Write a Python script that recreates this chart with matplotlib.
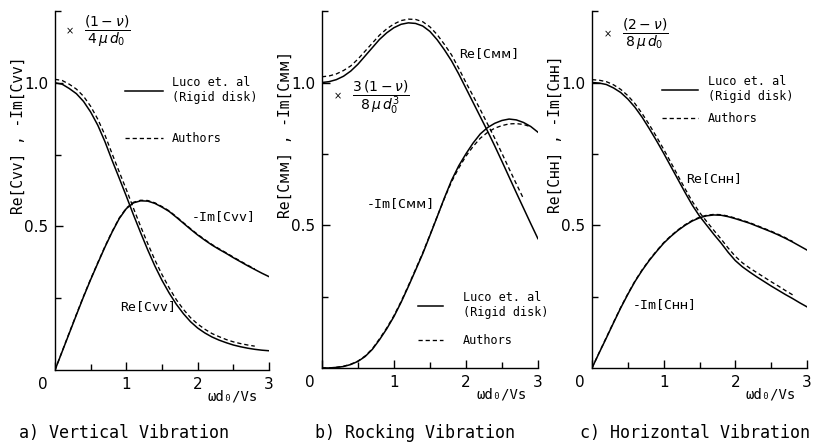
import matplotlib
matplotlib.use("Agg")
import matplotlib.pyplot as plt
from matplotlib.lines import Line2D
from matplotlib.ticker import FixedLocator

# frequency samples (omega d0 / Vs)
X_FULL = [0.0, 0.1, 0.2, 0.3, 0.4, 0.5, 0.6, 0.7, 0.8, 0.9, 1.0, 1.1, 1.2, 1.3, 1.4, 1.5,
          1.6, 1.7, 1.8, 1.9, 2.0, 2.1, 2.2, 2.3, 2.4, 2.5, 2.6, 2.7, 2.8, 2.9, 3.0]
X_DASH = X_FULL[:29]        # authors' curves stop near 2.8
X_DASH_LONG = X_FULL[:30]   # ... except rocking -Im, which runs to 2.9

# a) vertical
VV_RE_LUCO = [1.000, 0.995, 0.980, 0.962, 0.935, 0.898, 0.852, 0.795, 0.730, 0.668, 0.605,
              0.540, 0.478, 0.418, 0.362, 0.312, 0.268, 0.229, 0.196, 0.168, 0.146, 0.129,
              0.115, 0.104, 0.095, 0.087, 0.081, 0.076, 0.072, 0.069, 0.067]
VV_RE_AUTH = [1.012, 1.008, 0.995, 0.978, 0.953, 0.918, 0.873, 0.818, 0.753, 0.690, 0.628,
              0.563, 0.500, 0.440, 0.383, 0.332, 0.286, 0.245, 0.211, 0.182, 0.160, 0.142,
              0.127, 0.116, 0.106, 0.098, 0.092, 0.087, 0.083]
VV_IM_LUCO = [0.000, 0.064, 0.128, 0.192, 0.255, 0.315, 0.372, 0.428, 0.480, 0.527, 0.562,
              0.582, 0.589, 0.588, 0.580, 0.567, 0.552, 0.532, 0.511, 0.490, 0.470, 0.452,
              0.435, 0.420, 0.406, 0.391, 0.377, 0.363, 0.350, 0.337, 0.325]
VV_IM_AUTH = [0.000, 0.065, 0.130, 0.194, 0.257, 0.317, 0.374, 0.430, 0.482, 0.529, 0.564,
              0.584, 0.591, 0.590, 0.582, 0.569, 0.554, 0.534, 0.513, 0.492, 0.472, 0.454,
              0.437, 0.422, 0.408, 0.393, 0.379, 0.365, 0.352]

# b) rocking
MM_RE_LUCO = [1.000, 1.003, 1.010, 1.022, 1.040, 1.064, 1.093, 1.122, 1.151, 1.174, 1.192,
              1.204, 1.209, 1.207, 1.198, 1.179, 1.150, 1.115, 1.076, 1.030, 0.980, 0.930,
              0.880, 0.830, 0.778, 0.724, 0.669, 0.614, 0.560, 0.506, 0.453]
MM_RE_AUTH = [1.020, 1.023, 1.030, 1.042, 1.058, 1.082, 1.110, 1.138, 1.166, 1.188, 1.205,
              1.217, 1.222, 1.221, 1.213, 1.195, 1.168, 1.134, 1.097, 1.050, 1.000, 0.953,
              0.905, 0.855, 0.805, 0.752, 0.698, 0.645, 0.593]
MM_IM_LUCO = [0.000, 0.000, 0.002, 0.005, 0.012, 0.023, 0.040, 0.065, 0.099, 0.137, 0.180,
              0.230, 0.285, 0.342, 0.400, 0.464, 0.529, 0.595, 0.657, 0.708, 0.750, 0.788,
              0.820, 0.842, 0.857, 0.867, 0.872, 0.869, 0.860, 0.846, 0.826]
MM_IM_AUTH = [0.000, 0.000, 0.002, 0.006, 0.013, 0.024, 0.042, 0.067, 0.102, 0.140, 0.183,
              0.233, 0.288, 0.345, 0.403, 0.466, 0.530, 0.593, 0.652, 0.700, 0.742, 0.776,
              0.805, 0.825, 0.840, 0.849, 0.855, 0.856, 0.853, 0.845]

# c) horizontal
HH_RE_LUCO = [1.000, 0.998, 0.993, 0.981, 0.965, 0.942, 0.913, 0.878, 0.838, 0.796, 0.752,
              0.706, 0.660, 0.614, 0.570, 0.532, 0.500, 0.468, 0.438, 0.405, 0.376, 0.354,
              0.336, 0.319, 0.303, 0.287, 0.272, 0.257, 0.243, 0.228, 0.214]
HH_RE_AUTH = [1.010, 1.008, 1.003, 0.992, 0.976, 0.954, 0.926, 0.891, 0.852, 0.810, 0.766,
              0.720, 0.673, 0.627, 0.583, 0.545, 0.513, 0.482, 0.452, 0.420, 0.391, 0.368,
              0.350, 0.334, 0.318, 0.302, 0.287, 0.271, 0.256]
HH_IM_LUCO = [0.000, 0.053, 0.105, 0.158, 0.210, 0.258, 0.303, 0.342, 0.377, 0.408, 0.437,
              0.461, 0.482, 0.500, 0.515, 0.526, 0.533, 0.536, 0.535, 0.530, 0.523, 0.515,
              0.507, 0.497, 0.487, 0.477, 0.466, 0.454, 0.441, 0.427, 0.413]
HH_IM_AUTH = [0.000, 0.054, 0.107, 0.160, 0.212, 0.260, 0.305, 0.344, 0.379, 0.410, 0.439,
              0.463, 0.484, 0.502, 0.517, 0.528, 0.535, 0.538, 0.537, 0.532, 0.525, 0.517,
              0.509, 0.499, 0.489, 0.479, 0.468, 0.456, 0.443]

X_TICK_LABELS = ["", "1", "2", "3"]
Y_TICK_LABELS = ["0.5", "1.0"]

MONO = ["DejaVu Sans Mono", "DejaVu Sans"]
DASH = (0, (3.2, 2.2))


def style_axes(ax, ylabel):
    ax.set_xlim(0, 3)
    ax.set_ylim(0, 1.25)
    for side in ("top", "right"):
        ax.spines[side].set_visible(False)
    for side in ("left", "bottom"):
        ax.spines[side].set_linewidth(1.0)
    ax.xaxis.set_major_locator(FixedLocator([0, 1, 2, 3]))
    ax.xaxis.set_minor_locator(FixedLocator([0.5, 1.5, 2.5]))
    ax.yaxis.set_major_locator(FixedLocator([0.5, 1.0]))
    ax.yaxis.set_minor_locator(FixedLocator([0.25, 0.75, 1.25]))
    ax.set_xticklabels(X_TICK_LABELS)
    ax.set_yticklabels(Y_TICK_LABELS)
    ax.tick_params(which="major", direction="in", length=6, width=1.0, labelsize=11, pad=5)
    ax.tick_params(which="minor", direction="in", length=4.5, width=1.0)
    ax.annotate("0", xy=(0, 0), xytext=(-9, -5), textcoords="offset points",
                ha="center", va="top", fontsize=11)
    ax.set_ylabel(ylabel, family=MONO, fontsize=10.5)
    ax.yaxis.set_label_coords(-0.135, 0.655)
    ax.set_xlabel("ωd₀/Vs", family=MONO, fontsize=10)
    ax.xaxis.set_label_coords(0.83, -0.055)


def draw_pair(ax, x_solid, y_solid, x_dash, y_dash):
    ax.plot(x_solid, y_solid, color="black", lw=1.1)
    ax.plot(x_dash, y_dash, color="black", lw=0.95, linestyle=DASH)


def add_legend(ax, anchor, handlelength, textpad, spacing):
    handles = [
        Line2D([], [], color="black", lw=1.1),
        Line2D([], [], color="black", lw=0.95, linestyle=DASH),
    ]
    ax.legend(handles, ["Luco et. al\n(Rigid disk)", "Authors"],
              loc="upper left", bbox_to_anchor=anchor, frameon=False,
              borderpad=0, borderaxespad=0, handlelength=handlelength,
              handletextpad=textpad, labelspacing=spacing,
              prop={"family": MONO, "size": 8.5})


def add_factor(ax, x, y, frac):
    ax.text(x, y, "×", fontsize=7, va="center", ha="center")
    ax.text(x + 0.2, y, frac, fontsize=10, va="center", ha="left")


fig = plt.figure(figsize=(8.15, 4.46), dpi=100)

ax_a = fig.add_axes([0.0675, 0.1704, 0.2626, 0.805])
ax_b = fig.add_axes([0.395, 0.175, 0.265, 0.80])
ax_c = fig.add_axes([0.7264, 0.175, 0.2638, 0.80])

# a) vertical vibration
draw_pair(ax_a, X_FULL, VV_RE_LUCO, X_DASH, VV_RE_AUTH)
draw_pair(ax_a, X_FULL, VV_IM_LUCO, X_DASH, VV_IM_AUTH)
style_axes(ax_a, "Re[Cvv] , -Im[Cvv]")
add_legend(ax_a, (0.327, 0.818), 3.2, 0.76, 2.35)
ax_a.text(1.92, 0.533, "-Im[Cvv]", family=MONO, fontsize=9.5, va="center")
ax_a.text(0.91, 0.22, "Re[Cvv]", family=MONO, fontsize=9.5, va="center")
add_factor(ax_a, 0.21, 1.18, r"$\dfrac{(1-\nu)}{4\,\mu\, d_0}$")

# b) rocking vibration
draw_pair(ax_b, X_FULL, MM_RE_LUCO, X_DASH, MM_RE_AUTH)
draw_pair(ax_b, X_FULL, MM_IM_LUCO, X_DASH_LONG, MM_IM_AUTH)
style_axes(ax_b, "Re[Cᴍᴍ] , -Im[Cᴍᴍ]")
add_legend(ax_b, (0.444, 0.215), 2.1, 1.7, 1.25)
ax_b.text(1.90, 1.10, "Re[Cᴍᴍ]", family=MONO, fontsize=9.5, va="center")
ax_b.text(0.62, 0.577, "-Im[Cᴍᴍ]", family=MONO, fontsize=9.5, va="center")
add_factor(ax_b, 0.22, 0.95, r"$\dfrac{3\,(1-\nu)}{8\,\mu\, d_0^3}$")

# c) horizontal vibration
draw_pair(ax_c, X_FULL, HH_RE_LUCO, X_DASH, HH_RE_AUTH)
draw_pair(ax_c, X_FULL, HH_IM_LUCO, X_DASH, HH_IM_AUTH)
style_axes(ax_c, "Re[Cʜʜ] , -Im[Cʜʜ]")
add_legend(ax_c, (0.326, 0.822), 3.0, 0.85, 0.78)
ax_c.text(1.32, 0.663, "Re[Cʜʜ]", family=MONO, fontsize=9.5, va="center")
ax_c.text(0.57, 0.222, "-Im[Cʜʜ]", family=MONO, fontsize=9.5, va="center")
add_factor(ax_c, 0.22, 1.17, r"$\dfrac{(2-\nu)}{8\,\mu\, d_0}$")

# captions
for x_pos, caption in [(0.152, "a) Vertical Vibration"),
                       (0.509, "b) Rocking Vibration"),
                       (0.853, "c) Horizontal Vibration")]:
    fig.text(x_pos, 0.03, caption, ha="center", va="center", family=MONO, fontsize=12)

fig.savefig("out.png", dpi=100)
